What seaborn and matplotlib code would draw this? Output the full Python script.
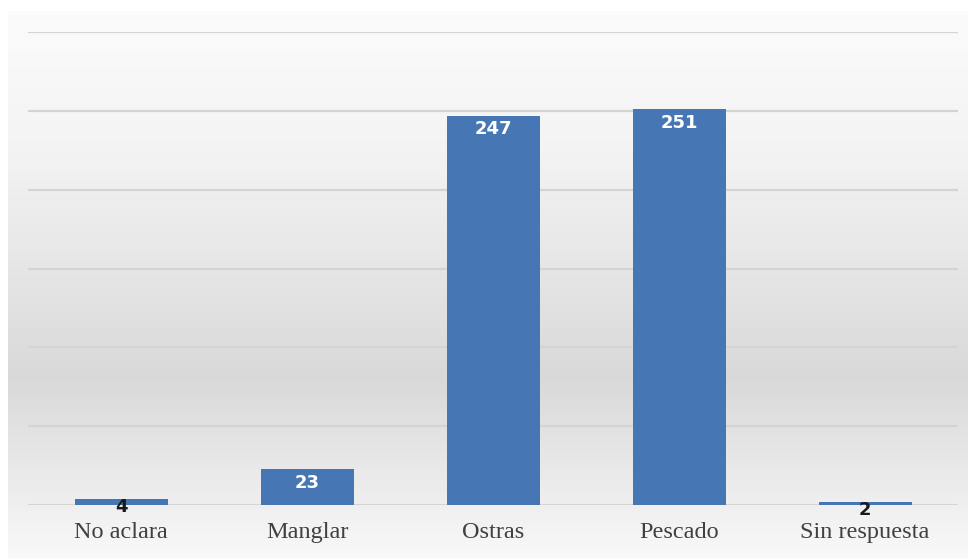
import numpy as np
import pandas as pd
import matplotlib
matplotlib.use("Agg")
import matplotlib.pyplot as plt
import seaborn as sns

categories = ["No aclara", "Manglar", "Ostras", "Pescado", "Sin respuesta"]
values = [4, 23, 247, 251, 2]
yticks = [0, 50, 100, 150, 200, 250, 300]

sns.set_theme(style="white")
plt.rcParams['font.family'] = ['DejaVu Sans']

W, H = 968, 558
fig = plt.figure(figsize=(W / 100, H / 100), dpi=100)
fig.patch.set_facecolor("white")

# background gradient panel
bg = fig.add_axes([8 / W, 0, 1 - 8 / W, (H - 11) / H])
bg.set_axis_off()
grad = np.interp(np.linspace(0, 1, 300), [0.0, 0.25, 0.5, 0.67, 1.0], [0.985, 0.955, 0.895, 0.85, 0.975])
img = np.repeat(grad[:, None], 2, axis=1)
bg.imshow(np.dstack([img, img, img]), aspect="auto", extent=[0, 1, 0, 1])
bg.set_xlim(0, 1)
bg.set_ylim(0, 1)

left, right = 28 / W, 958 / W
bottom, top = (H - 505) / H, (H - 32) / H
ax = fig.add_axes([left, bottom, right - left, top - bottom])
ax.patch.set_alpha(0)

df = pd.DataFrame({"cat": categories, "val": values})
sns.barplot(data=df, x="cat", y="val", color="#4677b4", width=0.5,
            saturation=1, linewidth=0, ax=ax, zorder=3)
ax.set_ylim(0, 300)
ax.set_yticks(yticks)
ax.yaxis.grid(True, color="#d4d4d4", linewidth=1.6, zorder=0)
ax.set_axisbelow(True)
ax.tick_params(axis="y", left=False, labelleft=False)
ax.tick_params(axis="x", bottom=False, pad=6)
for s in ax.spines.values():
    s.set_visible(False)
ax.set_xlabel("")
ax.set_ylabel("")
ax.set_xticks(range(len(categories)))
ax.set_xticklabels(categories, fontfamily="Liberation Serif", fontsize=17.5, color="#404040")

for i, v in enumerate(values):
    big = v > 15
    ax.annotate(str(v), xy=(i, v), xytext=(0, -10 if big else -6), textcoords="offset points",
                ha="center", va="center", fontsize=13, fontweight="bold",
                color="white" if big else "#1a1a1a", zorder=5)

fig.savefig("out.png", dpi=100, facecolor=fig.get_facecolor())
